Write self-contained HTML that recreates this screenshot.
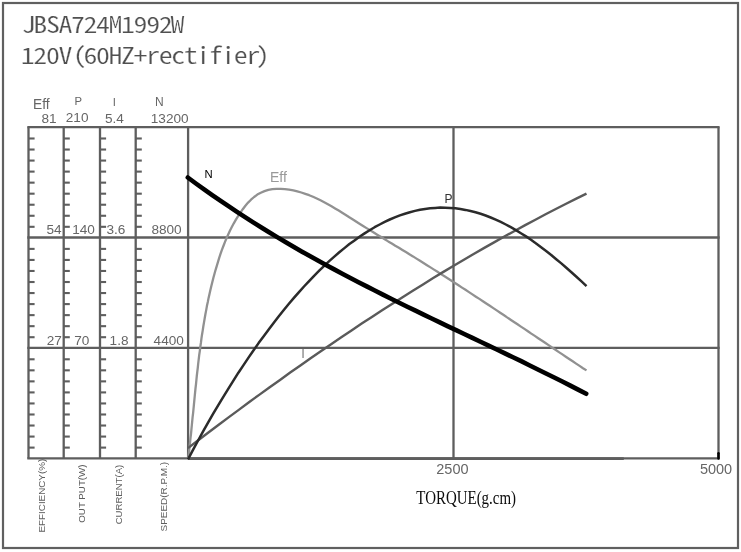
<!DOCTYPE html>
<html lang="en">
<head>
<meta charset="utf-8">
<title>JBSA724M1992W 120V(60HZ+rectifier)</title>
<style>
html,body{margin:0;padding:0;background:#fff;}
body{width:741px;height:552px;overflow:hidden;}
svg{display:block;}
.ttl{font-family:"Noto Sans Mono CJK SC","IPAGothic","Liberation Mono",monospace;font-size:28px;fill:#505050;stroke:#fff;stroke-width:0.3px;}
.num{font-family:"Liberation Sans",Arial,sans-serif;font-size:13.6px;fill:#666;}
.hd{font-family:"Liberation Sans",Arial,sans-serif;font-size:11.3px;fill:#666;}
.rot{font-family:"Liberation Sans",Arial,sans-serif;font-size:9.9px;fill:#5e5e5e;}
.tq{font-family:"Liberation Serif","Times New Roman",serif;font-size:19.6px;fill:#0a0a0a;}
</style>
</head>
<body>
<div id="layer" style="will-change:transform">
<svg width="741" height="552" viewBox="0 0 741 552">
<rect x="3" y="3" width="735" height="545" fill="none" stroke="#606060" stroke-width="2.2"/>
<text class="ttl" x="21.65 33.38 45.91 58.44 70.97 83.50 96.03 108.56 121.09 133.62 146.15 158.68 170.41" y="0" transform="translate(0,33.4) scale(1,0.81)">JBSA724M1992W</text>
<text class="ttl" x="20.85 33.38 45.91 58.44 72.77 83.50 96.03 108.56 121.09 133.62 146.15 158.68 171.21 183.74 196.27 208.80 221.33 233.86 246.39 255.72" y="0" transform="translate(0,63.6) scale(1,0.81)">120V(60HZ+rectifier)</text>
<g stroke="#5e5e5e" stroke-width="2.3" fill="none" stroke-linecap="butt">
<line x1="27.3" y1="127.2" x2="719.6" y2="127.2"/>
<line x1="27.3" y1="237.5" x2="719.6" y2="237.5"/>
<line x1="27.3" y1="347.9" x2="719.6" y2="347.9"/>
<line x1="27.3" y1="458.4" x2="719.6" y2="458.4"/>
<line x1="28.5" y1="127.2" x2="28.5" y2="458.4"/>
<line x1="63.7" y1="127.2" x2="63.7" y2="458.4"/>
<line x1="100.0" y1="127.2" x2="100.0" y2="458.4"/>
<line x1="135.7" y1="127.2" x2="135.7" y2="458.4"/>
<line x1="188.1" y1="127.2" x2="188.1" y2="458.4"/>
<line x1="453.5" y1="127.2" x2="453.5" y2="458.4"/>
<line x1="718.5" y1="127.2" x2="718.5" y2="458.4"/>
</g>
<line x1="188.1" y1="458.6" x2="623.8" y2="458.6" stroke="#5e5e5e" stroke-width="2.9"/>
<line x1="718.5" y1="453.2" x2="718.5" y2="458.4" stroke="#000" stroke-width="2.5" stroke-linecap="round"/>
<g stroke="#5e5e5e" stroke-width="2.1" fill="none">
<line x1="28.5" y1="138.49" x2="34.6" y2="138.49"/>
<line x1="28.5" y1="149.53" x2="34.6" y2="149.53"/>
<line x1="28.5" y1="160.57" x2="34.6" y2="160.57"/>
<line x1="28.5" y1="171.61" x2="34.6" y2="171.61"/>
<line x1="28.5" y1="182.65" x2="34.6" y2="182.65"/>
<line x1="28.5" y1="193.69" x2="34.6" y2="193.69"/>
<line x1="28.5" y1="204.73" x2="34.6" y2="204.73"/>
<line x1="28.5" y1="215.77" x2="34.6" y2="215.77"/>
<line x1="28.5" y1="226.81" x2="34.6" y2="226.81"/>
<line x1="28.5" y1="248.89" x2="34.6" y2="248.89"/>
<line x1="28.5" y1="259.93" x2="34.6" y2="259.93"/>
<line x1="28.5" y1="270.97" x2="34.6" y2="270.97"/>
<line x1="28.5" y1="282.01" x2="34.6" y2="282.01"/>
<line x1="28.5" y1="293.05" x2="34.6" y2="293.05"/>
<line x1="28.5" y1="304.09" x2="34.6" y2="304.09"/>
<line x1="28.5" y1="315.13" x2="34.6" y2="315.13"/>
<line x1="28.5" y1="326.17" x2="34.6" y2="326.17"/>
<line x1="28.5" y1="337.21" x2="34.6" y2="337.21"/>
<line x1="28.5" y1="359.29" x2="34.6" y2="359.29"/>
<line x1="28.5" y1="370.33" x2="34.6" y2="370.33"/>
<line x1="28.5" y1="381.37" x2="34.6" y2="381.37"/>
<line x1="28.5" y1="392.41" x2="34.6" y2="392.41"/>
<line x1="28.5" y1="403.45" x2="34.6" y2="403.45"/>
<line x1="28.5" y1="414.49" x2="34.6" y2="414.49"/>
<line x1="28.5" y1="425.53" x2="34.6" y2="425.53"/>
<line x1="28.5" y1="436.57" x2="34.6" y2="436.57"/>
<line x1="28.5" y1="447.61" x2="34.6" y2="447.61"/>
<line x1="63.7" y1="138.49" x2="69.8" y2="138.49"/>
<line x1="63.7" y1="149.53" x2="69.8" y2="149.53"/>
<line x1="63.7" y1="160.57" x2="69.8" y2="160.57"/>
<line x1="63.7" y1="171.61" x2="69.8" y2="171.61"/>
<line x1="63.7" y1="182.65" x2="69.8" y2="182.65"/>
<line x1="63.7" y1="193.69" x2="69.8" y2="193.69"/>
<line x1="63.7" y1="204.73" x2="69.8" y2="204.73"/>
<line x1="63.7" y1="215.77" x2="69.8" y2="215.77"/>
<line x1="63.7" y1="226.81" x2="69.8" y2="226.81"/>
<line x1="63.7" y1="248.89" x2="69.8" y2="248.89"/>
<line x1="63.7" y1="259.93" x2="69.8" y2="259.93"/>
<line x1="63.7" y1="270.97" x2="69.8" y2="270.97"/>
<line x1="63.7" y1="282.01" x2="69.8" y2="282.01"/>
<line x1="63.7" y1="293.05" x2="69.8" y2="293.05"/>
<line x1="63.7" y1="304.09" x2="69.8" y2="304.09"/>
<line x1="63.7" y1="315.13" x2="69.8" y2="315.13"/>
<line x1="63.7" y1="326.17" x2="69.8" y2="326.17"/>
<line x1="63.7" y1="337.21" x2="69.8" y2="337.21"/>
<line x1="63.7" y1="359.29" x2="69.8" y2="359.29"/>
<line x1="63.7" y1="370.33" x2="69.8" y2="370.33"/>
<line x1="63.7" y1="381.37" x2="69.8" y2="381.37"/>
<line x1="63.7" y1="392.41" x2="69.8" y2="392.41"/>
<line x1="63.7" y1="403.45" x2="69.8" y2="403.45"/>
<line x1="63.7" y1="414.49" x2="69.8" y2="414.49"/>
<line x1="63.7" y1="425.53" x2="69.8" y2="425.53"/>
<line x1="63.7" y1="436.57" x2="69.8" y2="436.57"/>
<line x1="63.7" y1="447.61" x2="69.8" y2="447.61"/>
<line x1="100.0" y1="138.49" x2="106.1" y2="138.49"/>
<line x1="100.0" y1="149.53" x2="106.1" y2="149.53"/>
<line x1="100.0" y1="160.57" x2="106.1" y2="160.57"/>
<line x1="100.0" y1="171.61" x2="106.1" y2="171.61"/>
<line x1="100.0" y1="182.65" x2="106.1" y2="182.65"/>
<line x1="100.0" y1="193.69" x2="106.1" y2="193.69"/>
<line x1="100.0" y1="204.73" x2="106.1" y2="204.73"/>
<line x1="100.0" y1="215.77" x2="106.1" y2="215.77"/>
<line x1="100.0" y1="226.81" x2="106.1" y2="226.81"/>
<line x1="100.0" y1="248.89" x2="106.1" y2="248.89"/>
<line x1="100.0" y1="259.93" x2="106.1" y2="259.93"/>
<line x1="100.0" y1="270.97" x2="106.1" y2="270.97"/>
<line x1="100.0" y1="282.01" x2="106.1" y2="282.01"/>
<line x1="100.0" y1="293.05" x2="106.1" y2="293.05"/>
<line x1="100.0" y1="304.09" x2="106.1" y2="304.09"/>
<line x1="100.0" y1="315.13" x2="106.1" y2="315.13"/>
<line x1="100.0" y1="326.17" x2="106.1" y2="326.17"/>
<line x1="100.0" y1="337.21" x2="106.1" y2="337.21"/>
<line x1="100.0" y1="359.29" x2="106.1" y2="359.29"/>
<line x1="100.0" y1="370.33" x2="106.1" y2="370.33"/>
<line x1="100.0" y1="381.37" x2="106.1" y2="381.37"/>
<line x1="100.0" y1="392.41" x2="106.1" y2="392.41"/>
<line x1="100.0" y1="403.45" x2="106.1" y2="403.45"/>
<line x1="100.0" y1="414.49" x2="106.1" y2="414.49"/>
<line x1="100.0" y1="425.53" x2="106.1" y2="425.53"/>
<line x1="100.0" y1="436.57" x2="106.1" y2="436.57"/>
<line x1="100.0" y1="447.61" x2="106.1" y2="447.61"/>
<line x1="135.7" y1="138.49" x2="141.8" y2="138.49"/>
<line x1="135.7" y1="149.53" x2="141.8" y2="149.53"/>
<line x1="135.7" y1="160.57" x2="141.8" y2="160.57"/>
<line x1="135.7" y1="171.61" x2="141.8" y2="171.61"/>
<line x1="135.7" y1="182.65" x2="141.8" y2="182.65"/>
<line x1="135.7" y1="193.69" x2="141.8" y2="193.69"/>
<line x1="135.7" y1="204.73" x2="141.8" y2="204.73"/>
<line x1="135.7" y1="215.77" x2="141.8" y2="215.77"/>
<line x1="135.7" y1="226.81" x2="141.8" y2="226.81"/>
<line x1="135.7" y1="248.89" x2="141.8" y2="248.89"/>
<line x1="135.7" y1="259.93" x2="141.8" y2="259.93"/>
<line x1="135.7" y1="270.97" x2="141.8" y2="270.97"/>
<line x1="135.7" y1="282.01" x2="141.8" y2="282.01"/>
<line x1="135.7" y1="293.05" x2="141.8" y2="293.05"/>
<line x1="135.7" y1="304.09" x2="141.8" y2="304.09"/>
<line x1="135.7" y1="315.13" x2="141.8" y2="315.13"/>
<line x1="135.7" y1="326.17" x2="141.8" y2="326.17"/>
<line x1="135.7" y1="337.21" x2="141.8" y2="337.21"/>
<line x1="135.7" y1="359.29" x2="141.8" y2="359.29"/>
<line x1="135.7" y1="370.33" x2="141.8" y2="370.33"/>
<line x1="135.7" y1="381.37" x2="141.8" y2="381.37"/>
<line x1="135.7" y1="392.41" x2="141.8" y2="392.41"/>
<line x1="135.7" y1="403.45" x2="141.8" y2="403.45"/>
<line x1="135.7" y1="414.49" x2="141.8" y2="414.49"/>
<line x1="135.7" y1="425.53" x2="141.8" y2="425.53"/>
<line x1="135.7" y1="436.57" x2="141.8" y2="436.57"/>
<line x1="135.7" y1="447.61" x2="141.8" y2="447.61"/>
</g>
<g fill="none" stroke-linejoin="round">
<path d="M188.2,458.5 L188.7,454.4 L189.2,450.3 L189.6,446.1 L190.1,442.0 L190.5,437.9 L191.0,433.8 L191.4,429.6 L191.8,425.5 L192.2,421.4 L192.6,417.2 L193.1,413.1 L193.5,409.0 L193.9,404.8 L194.3,400.7 L194.7,396.5 L195.1,392.4 L195.5,388.3 L196.0,384.1 L196.4,380.0 L196.8,375.9 L197.3,371.7 L197.8,367.6 L198.2,363.5 L198.7,359.3 L199.2,355.2 L199.8,351.1 L200.3,347.0 L200.9,342.9 L201.4,338.8 L202.0,334.7 L202.7,330.6 L203.3,326.5 L204.0,322.4 L204.7,318.3 L205.4,314.2 L206.2,310.1 L206.9,306.1 L207.8,302.0 L208.6,297.9 L209.5,293.9 L210.4,289.9 L211.4,285.8 L212.4,281.8 L213.4,277.8 L214.5,273.8 L215.6,269.8 L216.8,265.8 L218.0,261.8 L219.2,257.8 L220.5,253.9 L221.9,249.9 L223.4,246.0 L224.9,242.1 L226.5,238.3 L228.2,234.5 L229.9,230.7 L231.8,227.0 L233.8,223.3 L235.9,219.7 L238.1,216.1 L240.4,212.6 L242.8,209.2 L245.4,205.8 L248.1,202.6 L251.0,199.7 L254.1,197.0 L257.3,194.6 L260.8,192.7 L264.5,191.1 L268.4,189.9 L272.4,189.2 L276.5,188.8 L280.7,188.8 L284.9,189.1 L289.1,189.7 L293.3,190.4 L297.3,191.4 L301.3,192.5 L305.3,193.8 L309.2,195.2 L313.0,196.8 L316.8,198.5 L320.5,200.3 L324.2,202.2 L327.9,204.2 L331.5,206.2 L335.1,208.4 L338.7,210.6 L342.2,212.8 L345.8,215.0 L349.3,217.3 L352.9,219.5 L356.4,221.8 L359.9,224.0 L363.5,226.2 L367.0,228.4 L370.6,230.6 L374.1,232.8 L377.6,234.9 L381.2,237.1 L384.7,239.2 L388.2,241.4 L391.8,243.5 L395.3,245.7 L398.9,247.8 L402.4,250.0 L405.9,252.1 L409.4,254.3 L413.0,256.4 L416.5,258.6 L420.0,260.8 L423.5,263.0 L427.0,265.2 L430.5,267.4 L434.0,269.6 L437.5,271.8 L441.0,274.1 L444.5,276.3 L448.0,278.5 L451.5,280.8 L455.0,283.0 L458.5,285.3 L462.0,287.6 L465.5,289.8 L469.0,292.1 L472.4,294.4 L475.9,296.7 L479.4,298.9 L482.9,301.2 L486.3,303.5 L489.8,305.8 L493.3,308.1 L496.7,310.4 L500.2,312.7 L503.7,315.0 L507.1,317.4 L510.6,319.7 L514.0,322.0 L517.5,324.3 L520.9,326.6 L524.4,328.9 L527.9,331.2 L531.3,333.6 L534.8,335.9 L538.2,338.2 L541.7,340.5 L545.1,342.8 L548.6,345.1 L552.0,347.5 L555.5,349.8 L558.9,352.1 L562.4,354.4 L565.8,356.7 L569.2,359.0 L572.7,361.3 L576.1,363.6 L579.6,365.9 L583.0,368.2 L586.5,370.4" stroke="#919191" stroke-width="2.3"/>
<path d="M188.0,448.1 L198.2,440.2 L208.4,432.5 L218.7,424.8 L228.9,417.1 L239.1,409.6 L249.3,402.0 L259.5,394.6 L269.7,387.2 L280.0,379.9 L290.2,372.6 L300.4,365.4 L310.6,358.3 L320.8,351.2 L331.1,344.2 L341.3,337.3 L351.5,330.4 L361.7,323.6 L371.9,316.9 L382.1,310.2 L392.4,303.7 L402.6,297.2 L412.8,290.7 L423.0,284.4 L433.2,278.1 L443.4,271.9 L453.7,265.8 L463.9,259.7 L474.1,253.8 L484.3,247.9 L494.5,242.1 L504.8,236.3 L515.0,230.7 L525.2,225.1 L535.4,219.7 L545.6,214.3 L555.8,209.0 L566.1,203.7 L576.3,198.6 L586.5,193.6" stroke="#5a5a5a" stroke-width="2.4"/>
<path d="M188.0,459.3 L193.0,449.8 L198.1,440.5 L203.1,431.4 L208.2,422.4 L213.2,413.7 L218.3,405.1 L223.3,396.8 L228.4,388.6 L233.4,380.6 L238.4,372.7 L243.5,365.1 L248.5,357.6 L253.6,350.3 L258.6,343.1 L263.7,336.2 L268.7,329.4 L273.8,322.7 L278.8,316.3 L283.8,310.0 L288.9,303.8 L293.9,297.9 L299.0,292.1 L304.0,286.5 L309.1,281.1 L314.1,275.8 L319.2,270.7 L324.2,265.8 L329.2,261.1 L334.3,256.6 L339.3,252.3 L344.4,248.1 L349.4,244.1 L354.5,240.4 L359.5,236.8 L364.6,233.4 L369.6,230.2 L374.6,227.2 L379.7,224.5 L384.7,221.9 L389.8,219.5 L394.8,217.4 L399.9,215.4 L404.9,213.7 L409.9,212.2 L415.0,210.9 L420.0,209.8 L425.1,208.9 L430.1,208.3 L435.2,207.9 L440.2,207.6 L445.3,207.7 L450.3,207.9 L455.3,208.3 L460.4,209.0 L465.4,209.9 L470.5,211.0 L475.5,212.3 L480.6,213.8 L485.6,215.5 L490.7,217.5 L495.7,219.6 L500.7,221.9 L505.8,224.5 L510.8,227.2 L515.9,230.1 L520.9,233.2 L526.0,236.4 L531.0,239.8 L536.1,243.4 L541.1,247.2 L546.1,251.0 L551.2,255.0 L556.2,259.2 L561.3,263.4 L566.3,267.8 L571.4,272.3 L576.4,276.8 L581.5,281.4 L586.5,286.1" stroke="#2b2b2b" stroke-width="2.5"/>
<path d="M187.8,177.5 L195.9,183.5 L204.1,189.3 L212.2,195.1 L220.3,200.7 L228.5,206.2 L236.6,211.6 L244.7,216.9 L252.8,222.1 L261.0,227.2 L269.1,232.2 L277.2,237.1 L285.4,241.9 L293.5,246.7 L301.6,251.4 L309.8,256.0 L317.9,260.5 L326.0,265.0 L334.2,269.4 L342.3,273.7 L350.4,278.0 L358.5,282.2 L366.7,286.4 L374.8,290.5 L382.9,294.6 L391.1,298.7 L399.2,302.7 L407.3,306.7 L415.5,310.6 L423.6,314.6 L431.7,318.5 L439.8,322.4 L448.0,326.3 L456.1,330.1 L464.2,334.0 L472.4,337.9 L480.5,341.8 L488.6,345.6 L496.8,349.5 L504.9,353.4 L513.0,357.3 L521.2,361.2 L529.3,365.2 L537.4,369.2 L545.5,373.2 L553.7,377.2 L561.8,381.3 L569.9,385.4 L578.1,389.6 L586.2,393.8" stroke="#000" stroke-width="4.6" stroke-linecap="round"/>
</g>
<text x="204.4" y="177.6" style="font-family:'Liberation Sans',Arial,sans-serif;font-size:11.3px;fill:#000;">N</text>
<text x="270" y="182" style="font-family:'Liberation Sans',Arial,sans-serif;font-size:14px;fill:#999;">Eff</text>
<text x="444.4" y="202.7" style="font-family:'Liberation Sans',Arial,sans-serif;font-size:12px;fill:#333;">P</text>
<text x="301.3" y="357.7" style="font-family:'Liberation Sans',Arial,sans-serif;font-size:12.8px;fill:#7c7c7c;">I</text>
<text class="num" x="33.0" y="109.2" style="font-size:13.8px">Eff</text>
<text class="hd" x="74.6" y="105.3">P</text>
<text class="hd" x="112.7" y="105.7">I</text>
<text class="hd" x="155.0" y="105.8" style="font-size:12px">N</text>
<text class="num" x="41.5" y="123.4">81</text>
<text class="num" x="65.8" y="122.3">210</text>
<text class="num" x="104.9" y="123.4">5.4</text>
<text class="num" x="150.8" y="123.4">13200</text>
<text class="num" x="46.4" y="234.0">54</text>
<text class="num" x="72.2" y="234.0">140</text>
<text class="num" x="106.5" y="233.9">3.6</text>
<text class="num" x="151.4" y="233.8">8800</text>
<text class="num" x="46.7" y="344.7">27</text>
<text class="num" x="74.2" y="344.7">70</text>
<text class="num" x="109.6" y="344.7">1.8</text>
<text class="num" x="153.6" y="344.7">4400</text>
<text class="num" x="436.3" y="473.6" style="font-size:14.5px">2500</text>
<text class="num" x="699.9" y="473.6" style="font-size:14.5px">5000</text>
<text class="rot" textLength="73.7" lengthAdjust="spacingAndGlyphs" transform="translate(45.3,532.5) rotate(-90)">EFFICIENCY(%)</text>
<text class="rot" textLength="58.2" lengthAdjust="spacingAndGlyphs" transform="translate(85.4,522.7) rotate(-90)">OUT PUT(W)</text>
<text class="rot" textLength="59.5" lengthAdjust="spacingAndGlyphs" transform="translate(122.1,524.3) rotate(-90)">CURRENT(A)</text>
<text class="rot" textLength="69.4" lengthAdjust="spacingAndGlyphs" transform="translate(167,531.4) rotate(-90)">SPEED(R.P.M.)</text>
<text class="tq" transform="translate(416.3,503.7) scale(0.763,1)">TORQUE(g.cm)</text>
</svg>
</div>
</body>
</html>
